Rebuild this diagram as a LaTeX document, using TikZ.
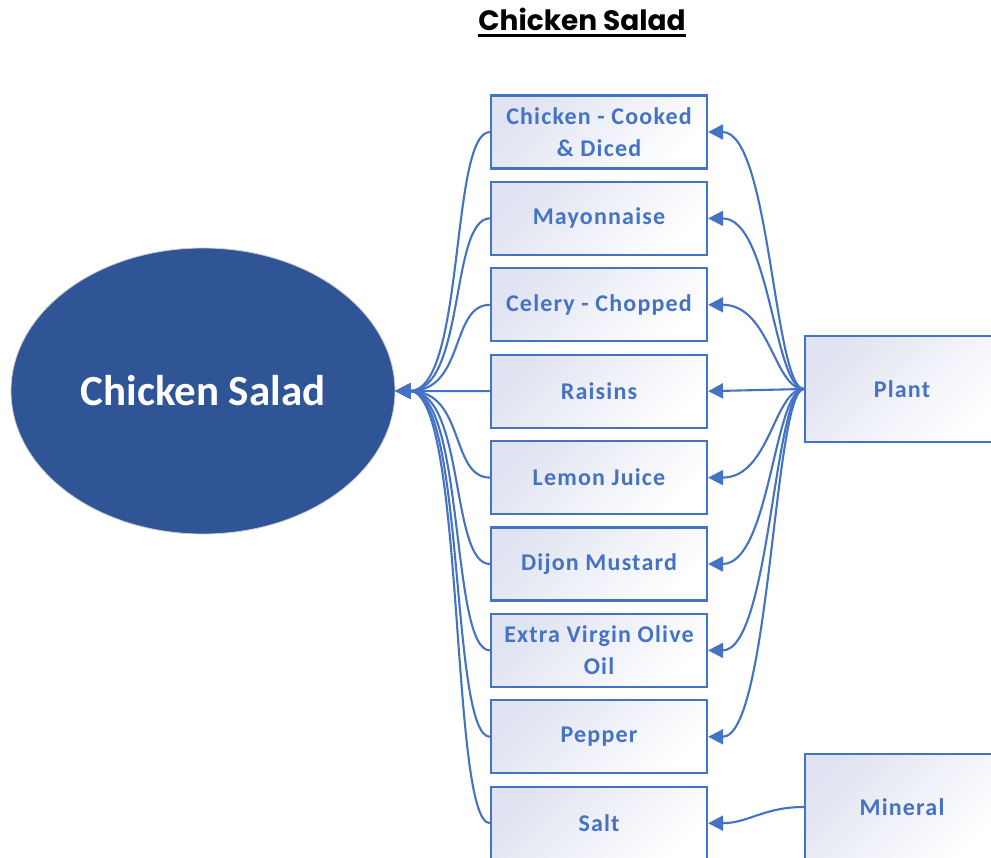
\documentclass[tikz,border=0pt]{standalone}
\usepackage{fontspec}
\setmainfont{Carlito}
\newfontfamily\boxfont[LetterSpace=5]{Carlito}
\newfontfamily\titlefont{Poppins}
\usetikzlibrary{shapes.geometric,arrows.meta}
\definecolor{cblue}{HTML}{4472C4}
\definecolor{dblue}{HTML}{2F5597}
\definecolor{lav}{HTML}{E0E3F1}
\newcommand\thickul[1]{\setbox0\hbox{#1}\rlap{\rule[-6pt]{\wd0}{2.8pt}}\box0}
\begin{document}
\begin{tikzpicture}[x=1pt,y=-1pt,
  ing/.style={rectangle, draw=cblue, line width=2.2pt, top color=lav, bottom color=white, shading angle=45,
    minimum width=216pt, minimum height=73pt, inner sep=0pt, align=center, text=cblue,
    font={\fontsize{24}{32}\boxfont\bfseries}},
  srcbox/.style={ing, minimum width=194pt, minimum height=106pt},
  conn/.style={draw=cblue, line width=2.1pt, -{Triangle[length=15pt,width=15pt]}},
]
\useasboundingbox (0,0) rectangle (991,858);

\node[font={\fontsize{28}{32}\titlefont\bfseries}, anchor=base, inner sep=0pt] (title) at (582,31) {\thickul{Chicken Salad}};

\node[ellipse, fill=dblue, draw=gray!40, line width=0.8pt, minimum width=384pt, minimum height=286pt, inner sep=0pt,
  text=white, font={\fontsize{43}{50}\selectfont\bfseries}] (cs) at (203,391) {Chicken Salad};

\node[ing] (b1) at (599,132.0) {Chicken - Cooked\\\& Diced};
\node[ing] (b2) at (599,218.4) {Mayonnaise};
\node[ing] (b3) at (599,304.8) {Celery - Chopped};
\node[ing] (b4) at (599,391.2) {Raisins};
\node[ing] (b5) at (599,477.6) {Lemon Juice};
\node[ing] (b6) at (599,564.0) {Dijon Mustard};
\node[ing] (b7) at (599,650.4) {Extra Virgin Olive\\Oil};
\node[ing] (b8) at (599,736.8) {Pepper};
\node[ing] (b9) at (599,823.2) {Salt};

\node[srcbox] (plant) at (902,389) {Plant};
\node[srcbox] (mineral) at (902,807) {Mineral};

\foreach \b in {b1,b2,b3,b5,b6,b7,b8,b9}
  \draw[conn] (\b.west) .. controls +(-40,0) and +(70,0) .. (cs.east);
\draw[conn] (b4.west) -- (cs.east);

\foreach \b in {b1,b2,b3,b5,b6,b7,b8}
  \draw[conn] (plant.west) .. controls +(-30,0) and +(62,0) .. (\b.east);
\draw[conn] (plant.west) -- (b4.east);

\draw[conn] (mineral.west) .. controls +(-40,0) and +(40,0) .. (b9.east);
\end{tikzpicture}
\end{document}
